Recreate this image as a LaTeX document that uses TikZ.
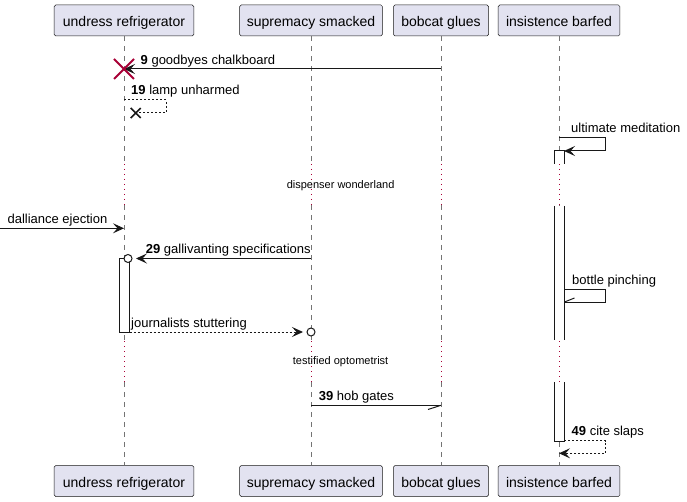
\documentclass[tikz,border=0pt]{standalone}
\usepackage{fontspec}
\setmainfont{Liberation Sans}
\usetikzlibrary{arrows.meta}
\definecolor{pbox}{HTML}{E2E2F0}
\definecolor{ink}{HTML}{181818}
\definecolor{crim}{HTML}{A80036}
\begin{document}
\begin{tikzpicture}[x=1pt,y=-1pt,
  part/.style={draw=ink, line width=0.5pt, fill=pbox, rounded corners=1.5pt, minimum height=31pt, inner sep=0pt, text height=14pt, text depth=2pt, font=\fontsize{14}{16}\selectfont},
  life/.style={draw=ink!60, line width=0.6pt, dash pattern=on 5pt off 5pt},
  delayl/.style={draw=crim, line width=1pt, dash pattern=on 1pt off 4pt},
  msg/.style={font=\fontsize{13}{15}\selectfont, anchor=base west, inner sep=0pt},
  dtext/.style={font=\fontsize{11}{13}\selectfont, inner sep=0pt},
  mline/.style={draw=ink, line width=1pt},
  dline/.style={mline, dash pattern=on 2pt off 2pt},
  pa/.style={-{Stealth[length=11pt,width=10pt,inset=4.5pt]}},
  act/.style={draw=ink, line width=1pt, fill=white},
  killx/.style={draw=crim, line width=2pt},
  smallx/.style={draw=ink, line width=1.6pt},
  lolli/.style={circle, draw=ink, line width=1pt, fill=white, minimum size=8pt, inner sep=0pt}
]
\useasboundingbox (0,0) rectangle (687,502);
% participants
\node[part, minimum width=139.6pt] (uT) at (124,20.5) {undress refrigerator};
\node[part, minimum width=142.7pt] (sT) at (311,20.5) {supremacy smacked};
\node[part, minimum width=95pt] (bT) at (441,20.5) {bobcat glues};
\node[part, minimum width=121.7pt] (iT) at (559,20.5) {insistence barfed};
\node[part, minimum width=139.6pt] (uB) at (124,481) {undress refrigerator};
\node[part, minimum width=142.7pt] (sB) at (311,481) {supremacy smacked};
\node[part, minimum width=95pt] (bB) at (441,481) {bobcat glues};
\node[part, minimum width=121.7pt] (iB) at (559,481) {insistence barfed};
% lifelines
\foreach \p in {u,s,b,i} {
  \draw[life] (\p T.south) -- (\p T.south |- 0,163);
  \draw[delayl] (\p T.south |- 0,164) -- (\p T.south |- 0,205);
  \draw[life] (\p T.south |- 0,205) -- (\p T.south |- 0,340);
  \draw[delayl] (\p T.south |- 0,341) -- (\p T.south |- 0,382);
  \draw[life] (\p T.south |- 0,382) -- (\p B.north);
}
% activations
\fill[white] (554,151) rectangle (564,164);
\draw[act, fill=none] (554,164) -- (554,151) -- (564,151) -- (564,164);
\fill[white] (554,206) rectangle (564,340);
\draw[act] (554,206) -- (554,340) (564,206) -- (564,340);
\fill[white] (554,382) rectangle (564,441);
\draw[act, fill=none] (554,382) -- (554,441) -- (564,441) -- (564,382);
\draw[act] (119,259) rectangle (129.5,332);
% delays
\node[dtext] (d1) at (340.6,186) {dispenser wonderland};
\node[dtext] (d2) at (340.6,362) {testified optometrist};
% message 9
\draw[mline, pa] (bT.south |- 0,69) -- (uT.south |- 0,69);
\draw[killx] (114,59) -- (134,79) (114,79) -- (134,59);
\node[msg] (m9) at (140.5,64.3) {\textbf{9} goodbyes chalkboard};
% message 19
\coordinate (x19) at (135.7,113);
\draw[dline] (uT.south |- 0,100) -- (166,100) -- (166,113) -- (x19);
\draw[smallx] (130.7,108) -- (140.7,118) (130.7,118) -- (140.7,108);
\node[msg] (m19) at (131,95) {\textbf{19} lamp unharmed};
% ultimate meditation
\draw[mline, pa] (iT.south |- 0,138) -- (605.7,138) -- (605.7,151) -- (564,151);
\node[msg] (mum) at (571,133) {ultimate meditation};
% dalliance ejection
\coordinate (left) at (0,228.3);
\draw[mline, pa] (left) -- (uT.south |- 0,228.3);
\node[msg] (mde) at (7.4,223.3) {dalliance ejection};
% 29
\node[lolli] (o29) at (128,258.5) {};
\draw[mline, pa, shorten >=3.5pt] (sT.south |- 0,258.5) -- (o29.east);
\node[msg] (m29) at (145.7,253.5) {\textbf{29} gallivanting specifications};
% bottle pinching
\coordinate (bp) at (564.5,302);
\draw[mline] (564,289) -- (605.7,289) -- (605.7,302) -- (bp);
\draw[mline] (bp) -- (574.5,298);
\node[msg] (mbp) at (572,284) {bottle pinching};
% journalists stuttering
\node[lolli] (o35) at (311,332) {};
\draw[dline, pa, shorten >=3.5pt] (129.5,332) -- (o35.west);
\node[msg] (mjs) at (131,327) {journalists stuttering};
% 39
\coordinate (hg) at (bT.south |- 0,405.3);
\draw[mline] (sT.south |- 0,405.3) -- (hg);
\draw[mline] (hg) -- (428,409.5);
\node[msg] (m39) at (318.6,400.3) {\textbf{39} hob gates};
% 49
\draw[dline, pa] (564,440.5) -- (605.7,440.5) -- (605.7,453.3) -- (iT.south |- 0,453.3);
\node[msg] (m49) at (571.5,435.5) {\textbf{49} cite slaps};
\end{tikzpicture}
\end{document}
